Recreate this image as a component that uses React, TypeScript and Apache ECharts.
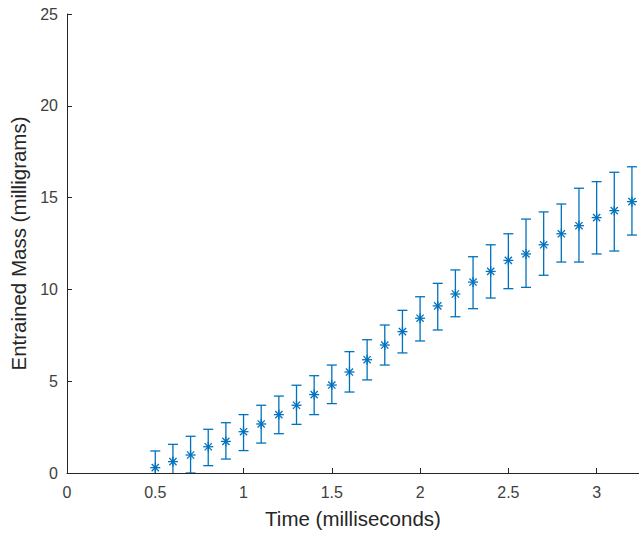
import React, { useEffect, useRef } from "react";
import * as echarts from "echarts";

const times = [0.5, 0.6, 0.7, 0.8, 0.9, 1.0, 1.1, 1.2, 1.3, 1.4, 1.5, 1.6, 1.7, 1.8, 1.9, 2.0, 2.1, 2.2, 2.3, 2.4, 2.5, 2.6, 2.7, 2.8, 2.9, 3.0, 3.1, 3.2];
const means = [0.29, 0.62, 0.98, 1.43, 1.72, 2.25, 2.67, 3.18, 3.69, 4.27, 4.79, 5.5, 6.17, 6.97, 7.7, 8.43, 9.1, 9.75, 10.4, 10.98, 11.58, 11.93, 12.43, 13.03, 13.47, 13.91, 14.29, 14.78];
const upper = [1.2, 1.56, 2.0, 2.38, 2.74, 3.18, 3.69, 4.19, 4.78, 5.3, 5.88, 6.61, 7.26, 8.06, 8.86, 9.6, 10.33, 11.06, 11.78, 12.43, 13.03, 13.83, 14.22, 14.65, 15.51, 15.87, 16.38, 16.68];
const lower = [-0.6, -0.3, 0.0, 0.4, 0.76, 1.22, 1.63, 2.14, 2.65, 3.18, 3.78, 4.41, 5.07, 5.88, 6.54, 7.19, 7.79, 8.51, 8.95, 9.53, 10.04, 10.11, 10.77, 11.49, 11.49, 11.93, 12.09, 12.96];

const COLOR = "#0072BD";
const AXIS = "#262626";
const TEXT = "#404040";
const FONT = "'Liberation Sans', Arial, Helvetica, sans-serif";

export default function App() {
  const ref = useRef<HTMLDivElement>(null);
  useEffect(() => {
    if (!ref.current) return;
    const chart = echarts.init(ref.current, null, { renderer: "svg" });
    const data = times.map((t, i) => [t, means[i], lower[i], upper[i]]);
    chart.setOption({
      animation: false,
      backgroundColor: "#ffffff",
      grid: { left: 67, right: 0, top: 14, bottom: 62 },
      xAxis: {
        type: "value",
        min: 0,
        max: 3.24,
        interval: 0.5,
        name: "Time (milliseconds)",
        nameLocation: "middle",
        nameGap: 35,
        nameTextStyle: { color: AXIS, fontSize: 20.5, fontFamily: FONT },
        axisLine: { show: true, lineStyle: { color: AXIS, width: 1 } },
        axisTick: { show: true, inside: true, length: 5, lineStyle: { color: AXIS } },
        axisLabel: {
          color: TEXT,
          fontSize: 16,
          fontFamily: FONT,
          margin: 11,
          showMaxLabel: false,
          formatter: (v: number) => (Math.abs(v * 2 - Math.round(v * 2)) < 1e-6 ? String(v) : ""),
        },
        splitLine: { show: false },
      },
      yAxis: {
        type: "value",
        min: 0,
        max: 25,
        interval: 5,
        name: "Entrained Mass (milligrams)",
        nameLocation: "middle",
        nameGap: 34,
        nameTextStyle: { color: AXIS, fontSize: 20.5, fontFamily: FONT },
        axisLine: { show: true, lineStyle: { color: AXIS, width: 1 } },
        axisTick: { show: true, inside: true, length: 5, lineStyle: { color: AXIS } },
        axisLabel: { color: TEXT, fontSize: 16, fontFamily: FONT, margin: 9 },
        splitLine: { show: false },
      },
      series: [
        {
          type: "custom",
          clip: true,
          data,
          encode: { x: 0, y: [1, 2, 3] },
          renderItem: (params: any, api: any) => {
            const x = api.value(0);
            const c = api.coord([x, api.value(1)]);
            const lo = api.coord([x, api.value(2)]);
            const hi = api.coord([x, api.value(3)]);
            const style = { stroke: COLOR, lineWidth: 1.3, fill: null };
            const cap = 5;
            const r = 5;
            const d = 3.6;
            const mk = (x1: number, y1: number, x2: number, y2: number) => ({
              type: "line",
              shape: { x1, y1, x2, y2 },
              style,
            });
            return {
              type: "group",
              children: [
                mk(hi[0], hi[1], lo[0], lo[1]),
                mk(hi[0] - cap, hi[1], hi[0] + cap, hi[1]),
                mk(lo[0] - cap, lo[1], lo[0] + cap, lo[1]),
                mk(c[0] - r, c[1], c[0] + r, c[1]),
                mk(c[0], c[1] - r, c[0], c[1] + r),
                mk(c[0] - d, c[1] - d, c[0] + d, c[1] + d),
                mk(c[0] - d, c[1] + d, c[0] + d, c[1] - d),
              ],
            };
          },
          z: 3,
        },
      ],
    });
    return () => chart.dispose();
  }, []);
  return (
    <div
      ref={ref}
      style={{ position: "fixed", left: 0, top: 0, width: 639, height: 535, background: "#fff" }}
    />
  );
}
